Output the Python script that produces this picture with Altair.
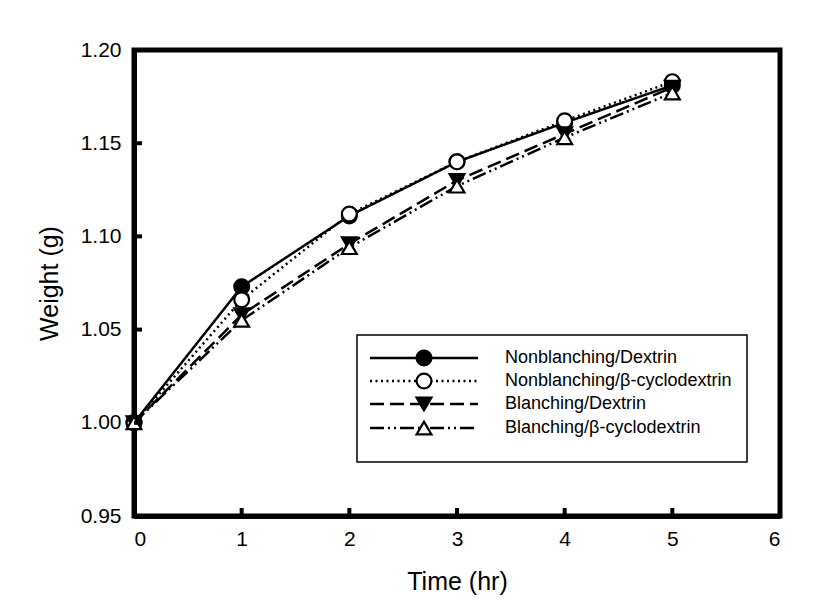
import altair as alt
import pandas as pd

series = ["Nonblanching/Dextrin", "Nonblanching/β-cyclodextrin",
          "Blanching/Dextrin", "Blanching/β-cyclodextrin"]
time_hr = [0, 1, 2, 3, 4, 5]
nb_dextrin = [1.000, 1.073, 1.111, 1.140, 1.161, 1.181]
nb_cyclo = [1.000, 1.066, 1.112, 1.140, 1.162, 1.183]
b_dextrin = [1.000, 1.058, 1.096, 1.130, 1.155, 1.180]
b_cyclo = [1.000, 1.055, 1.094, 1.127, 1.153, 1.177]
x_ticks = [0, 1, 2, 3, 4, 5, 6]
y_ticks = [0.95, 1.00, 1.05, 1.10, 1.15, 1.20]

dashes = [[1, 0], [2, 3.5], [14, 6], [14, 4, 2, 4, 2, 4]]
shapes = ["circle", "circle", "triangle-down", "triangle-up"]
fills = ["black", "white", "black", "white"]

W, H = 646, 466
FONT = "Liberation Sans"

rows = []
for i, (name, vals) in enumerate(zip(series, [nb_dextrin, nb_cyclo, b_dextrin, b_cyclo])):
    for t, v in zip(time_hr, vals):
        rows.append({"series": name, "order": i, "time": t, "weight": v})
df = pd.DataFrame(rows)

xs = alt.Scale(domain=[0, 6], nice=False)
ys = alt.Scale(domain=[0.95, 1.20], nice=False, zero=False)

x_enc = alt.X("time:Q", scale=xs, title="Time (hr)",
              axis=alt.Axis(values=x_ticks, format="d", domainWidth=5, domainColor="black",
                            tickSize=0, labelPadding=12, titlePadding=20))
y_enc = alt.Y("weight:Q", scale=ys, title="Weight (g)",
              axis=alt.Axis(values=y_ticks, format=".2f", domainWidth=5, domainColor="black",
                            tickSize=0, labelPadding=13, titlePadding=18))

lines = alt.Chart(df).mark_line(color="black", strokeWidth=2.5).encode(
    x=x_enc, y=y_enc,
    detail="series:N",
    strokeDash=alt.StrokeDash("series:N", scale=alt.Scale(domain=series, range=dashes), legend=None),
)

points = alt.Chart(df).mark_point(size=220, stroke="black", strokeWidth=2.2, opacity=1, filled=False).encode(
    x=x_enc, y=y_enc,
    shape=alt.Shape("series:N", scale=alt.Scale(domain=series, range=shapes), legend=None),
    fill=alt.Fill("series:N", scale=alt.Scale(domain=series, range=fills), legend=None),
    order=alt.Order("order:Q"),
)

xt = alt.Chart(pd.DataFrame({"time": x_ticks})).mark_rule(color="black", strokeWidth=4).encode(
    x=alt.X("time:Q", scale=xs), y=alt.value(H), y2=alt.value(H - 8))
yt = alt.Chart(pd.DataFrame({"weight": y_ticks})).mark_rule(color="black", strokeWidth=4).encode(
    y=alt.Y("weight:Q", scale=ys), x=alt.value(0), x2=alt.value(8))

# frame lines for the left and bottom axes
frame_df = pd.DataFrame({"a": [0]})
left_line = alt.Chart(frame_df).mark_rule(color="black", strokeWidth=4, strokeCap="square").encode(
    x=alt.value(0), y=alt.value(0), y2=alt.value(H))
bottom_line = alt.Chart(frame_df).mark_rule(color="black", strokeWidth=4, strokeCap="square").encode(
    y=alt.value(H), x=alt.value(0), x2=alt.value(W))

# legend
leg_df = pd.DataFrame({"series": series, "order": [0, 1, 2, 3]})
box = alt.Chart(pd.DataFrame({"a": [0]})).mark_rect(fill="white", stroke="black", strokeWidth=1.5).encode(
    x=alt.value(223), x2=alt.value(613), y=alt.value(285), y2=alt.value(412))
legend_layers = [box]
row_y = [308, 331, 354, 378]
for i, name in enumerate(series):
    base = alt.Chart(leg_df).transform_filter(alt.datum.series == name)
    legend_layers.append(base.mark_rule(color="black", strokeWidth=2.7, strokeDash=dashes[i]).encode(
        x=alt.value(236), x2=alt.value(344), y=alt.value(row_y[i])))
    legend_layers.append(base.mark_point(size=220, shape=shapes[i], fill=fills[i], stroke="black",
                                         strokeWidth=2.2, opacity=1).encode(
        x=alt.value(290), y=alt.value(row_y[i])))
    legend_layers.append(base.mark_text(align="left", baseline="middle", font=FONT, fontSize=18,
                                        color="black").encode(
        x=alt.value(371), y=alt.value(row_y[i]), text="series:N"))

chart = alt.layer(lines, left_line, bottom_line, points, xt, yt, *legend_layers).properties(
    width=W, height=H,
    autosize=alt.AutoSizeParams(type="none"),
    padding={"left": 126, "top": 42, "right": 30, "bottom": 80},
).configure_view(stroke="black", strokeWidth=5).configure_axis(
    grid=False,
    labelFont=FONT, labelFontSize=21, labelColor="black",
    titleFont=FONT, titleFontSize=25, titleColor="black", titleFontWeight="normal",
)

chart.save("out.html", embed_options={"renderer": "svg", "actions": False})
